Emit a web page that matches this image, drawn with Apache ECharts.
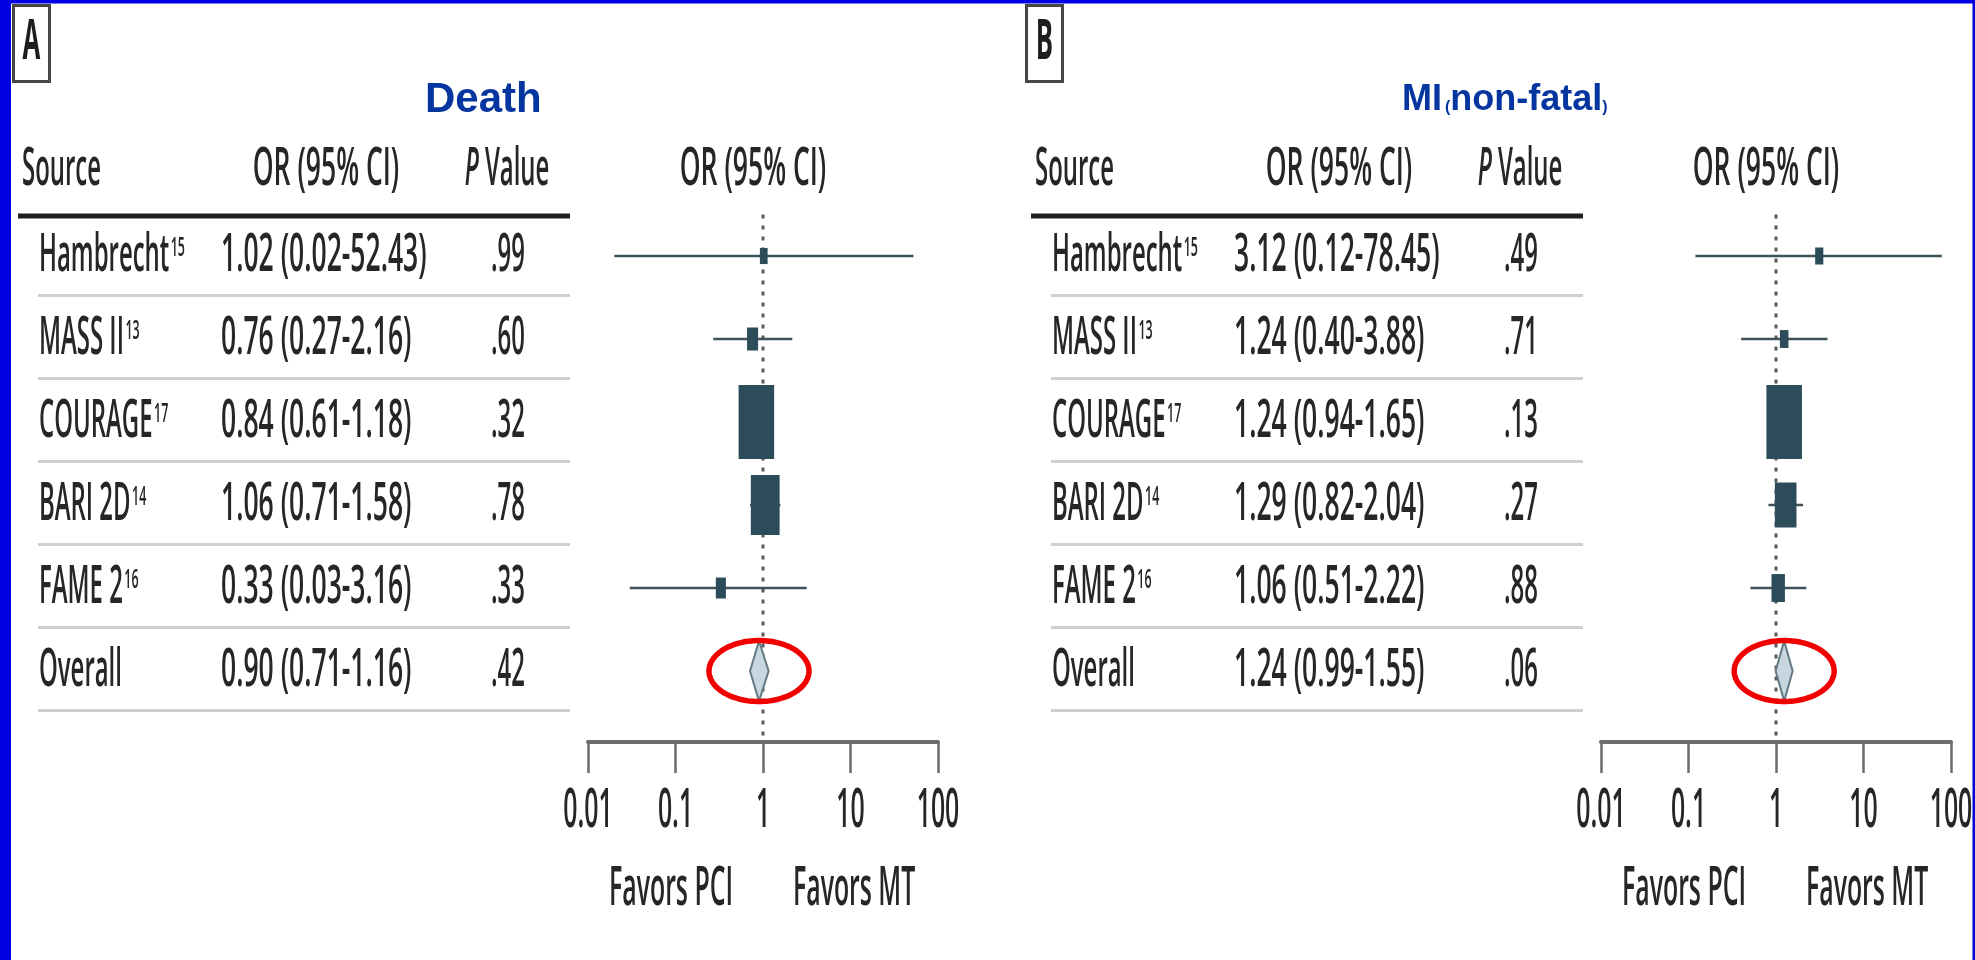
<!DOCTYPE html>
<html>
<head>
<meta charset="utf-8">
<title>PCI vs MT forest plots</title>
<script src="https://cdn.jsdelivr.net/npm/echarts@6/dist/echarts.min.js"></script>
<style>
  html, body { margin: 0; padding: 0; background: #ffffff; }
  #chart { width: 1975px; height: 960px; }
</style>
</head>
<body>
<div id="chart"></div>
<script>
// ---- data -------------------------------------------------------------
const studies = ['Hambrecht', 'MASS II', 'COURAGE', 'BARI 2D', 'FAME 2', 'Overall'];
const refs = ['15', '13', '17', '14', '16', ''];

// Panel A: death
const orA = [1.02, 0.76, 0.84, 1.06, 0.33, 0.90];
const loA = [0.02, 0.27, 0.61, 0.71, 0.03, 0.71];
const hiA = [52.43, 2.16, 1.18, 1.58, 3.16, 1.16];
const pA = ['.99', '.60', '.32', '.78', '.33', '.42'];
const weightA = [2.6, 5.3, 54.8, 36.0, 4.4];

// Panel B: non-fatal MI
const orB = [3.12, 1.24, 1.24, 1.29, 1.06, 1.24];
const loB = [0.12, 0.40, 0.94, 0.82, 0.51, 0.99];
const hiB = [78.45, 3.88, 1.65, 2.04, 2.22, 1.55];
const pB = ['.49', '.71', '.13', '.27', '.88', '.06'];
const weightB = [2.9, 3.2, 54.8, 20.3, 7.8];

const tickValues = [0.01, 0.1, 1, 10, 100];
const tickLabels = ['0.01', '0.1', '1', '10', '100'];

// ---- styling ----------------------------------------------------------
const SQ = 0.46;                 // horizontal squeeze of the table typeface
const SQ_NUM = 0.51;             // slightly wider squeeze for the numeric OR column
const FONT = 'Open Sans';
const FW = '600';
const FS = 52;
const INK = '#262626';
const TITLE_BLUE = '#0536a0';
const ROW_MAX = 5.855;           // lets the value axis reach down to the x axis line

const panels = [
  { key: 'A', or: orA, lo: loA, hi: hiA, p: pA, w: weightA, dx: 0 },
  { key: 'B', or: orB, lo: loB, hi: hiB, p: pB, w: weightB, dx: 1013 }
];

const chart = echarts.init(document.getElementById('chart'), null, { renderer: 'canvas' });

function fmt(v) { return v.toFixed(2); }

function renderStudy(params, api) {
  const i = api.value(0);
  const or = api.value(1), lo = api.value(2), hi = api.value(3), w = api.value(4);
  const c = api.coord([or, i]);
  const pl = api.coord([lo, i]);
  const ph = api.coord([hi, i]);
  const children = [];
  if (w > 0) {
    children.push({
      type: 'line',
      shape: { x1: pl[0], y1: c[1], x2: ph[0], y2: c[1] },
      style: { stroke: '#3e5158', lineWidth: 2.6 }
    });
    const h = 10 * Math.sqrt(w);
    const bw = h * 0.48;
    children.push({
      type: 'rect',
      shape: { x: c[0] - bw / 2, y: c[1] - h / 2, width: bw, height: h },
      style: { fill: '#2c4c59' }
    });
  } else {
    children.push({
      type: 'polygon',
      shape: { points: [[pl[0], c[1]], [c[0], c[1] - 30], [ph[0], c[1]], [c[0], c[1] + 30]] },
      style: { fill: '#c7d6df', stroke: '#627a85', lineWidth: 2 }
    });
  }
  return { type: 'group', children: children };
}

function renderHighlight(params, api) {
  const c = api.coord([api.value(0), api.value(1)]);
  const rx = 50, ry = 30.5, pts = [];
  for (let k = 0; k < 120; k++) {
    const t = (k / 120) * Math.PI * 2;
    pts.push([c[0] + rx * Math.cos(t), c[1] + ry * Math.sin(t)]);
  }
  return {
    type: 'polygon',
    shape: { points: pts },
    style: { fill: 'none', stroke: '#f20000', lineWidth: 5.5 }
  };
}

const series = [];
panels.forEach((pn, k) => {
  series.push({
    type: 'line',
    xAxisIndex: k, yAxisIndex: k,
    data: [[1, -0.5], [1, ROW_MAX]],
    symbol: 'none', silent: true, z: 1,
    lineStyle: { color: '#5a5a5a', width: 3, type: [4, 7] }
  });
  series.push({
    type: 'custom',
    xAxisIndex: k, yAxisIndex: k,
    renderItem: renderStudy,
    data: studies.map((s, i) => [i, pn.or[i], pn.lo[i], pn.hi[i], i < pn.w.length ? pn.w[i] : 0]),
    silent: true, z: 3
  });
  series.push({
    type: 'custom',
    xAxisIndex: k, yAxisIndex: k,
    renderItem: renderHighlight,
    data: [[pn.or[5], 5]],
    silent: true, z: 4
  });
});

chart.setOption({
  animation: false,
  backgroundColor: '#ffffff',
  grid: panels.map(pn => ({ left: 588 + pn.dx, top: 214.5, width: 350, height: 527.5 })),
  xAxis: panels.map((pn, k) => ({
    type: 'log', logBase: 10, min: 0.01, max: 100, gridIndex: k,
    position: 'bottom',
    axisLine: { show: true, onZero: false, lineStyle: { color: '#6c6c6c', width: 4 } },
    axisTick: { show: true, length: 31, lineStyle: { color: '#6c6c6c', width: 2.5 } },
    axisLabel: { show: false },
    splitLine: { show: false },
    minorTick: { show: false }
  })),
  yAxis: panels.map((pn, k) => ({
    type: 'value', gridIndex: k, inverse: true, min: -0.5, max: ROW_MAX, show: false
  })),
  series: series
});

// ---- table text and decorations ---------------------------------------
const measureCtx = document.createElement('canvas').getContext('2d');
function textWidth(str, size, family, weight, style) {
  measureCtx.font = (style || 'normal') + ' ' + (weight || FW) + ' ' + size + 'px "' + family + '"';
  return measureCtx.measureText(str).width;
}
function label(x, y, str, o) {
  o = o || {};
  return {
    type: 'text', x: x, y: y, silent: true, z: 10,
    scaleX: o.squeeze !== undefined ? o.squeeze : SQ,
    style: {
      text: str,
      fontFamily: o.family || FONT,
      fontSize: o.size || FS,
      fontWeight: o.weight || FW,
      fontStyle: o.style || 'normal',
      fill: o.color || INK,
      align: o.align || 'left',
      verticalAlign: 'middle'
    }
  };
}
function hline(x1, x2, y, color, width) {
  return { type: 'line', silent: true, z: 5, shape: { x1: x1, y1: y, x2: x2, y2: y }, style: { stroke: color, lineWidth: width } };
}

const els = [];

// frame strips
els.push({ type: 'rect', silent: true, z: 20, shape: { x: 0, y: 0, width: 11, height: 960 }, style: { fill: '#0000e0' } });
els.push({ type: 'rect', silent: true, z: 20, shape: { x: 0, y: 0, width: 1975, height: 3.5 }, style: { fill: '#0000e0' } });
els.push({ type: 'rect', silent: true, z: 20, shape: { x: 1972.5, y: 0, width: 2.5, height: 960 }, style: { fill: '#0000e0' } });

panels.forEach((pn, k) => {
  const dx = pn.dx;
  const rowY = r => chart.convertToPixel({ yAxisIndex: k }, r);
  const axX = v => chart.convertToPixel({ xAxisIndex: k }, v);
  const hdrY = rowY(-1.035);

  // panel letter box
  els.push({ type: 'rect', silent: true, z: 6, shape: { x: 13.5 + dx, y: 5.5, width: 36, height: 76 },
    style: { fill: '#ffffff', stroke: '#474747', lineWidth: 3 } });
  els.push(label(31.5 + dx, 43, pn.key, { size: 56, align: 'center', weight: 'bold', color: '#1e1e1e' }));

  // column headers
  els.push(label(22 + dx, hdrY, 'Source'));
  els.push(label(326 + dx, hdrY, 'OR (95% CI)', { align: 'center', squeeze: SQ_NUM }));
  const wP = textWidth('P', FS, FONT, FW, 'italic') * SQ;
  const wV = textWidth(' Value', FS, FONT) * SQ;
  const pStart = 507 + dx - (wP + wV) / 2;
  els.push(label(pStart, hdrY, 'P', { style: 'italic' }));
  els.push(label(pStart + wP, hdrY, ' Value'));
  els.push(label(axX(1) - 10, hdrY, 'OR (95% CI)', { align: 'center', squeeze: SQ_NUM }));

  // rules
  els.push(hline(18 + dx, 570 + dx, rowY(-0.5) + 1.5, '#1f1f1f', 5));
  for (let i = 0; i < studies.length; i++) {
    els.push(hline(38 + dx, 570 + dx, rowY(i + 0.5) - 2, '#cfcfcf', 3));
  }

  // rows
  studies.forEach((s, i) => {
    const y = rowY(i);
    els.push(label(39 + dx, y, s));
    if (refs[i]) {
      const w = textWidth(s, FS, FONT) * SQ;
      els.push(label(39 + dx + w + 1.5, y - 8, refs[i], { size: 27 }));
    }
    els.push(label(221 + dx, y, fmt(pn.or[i]) + ' (' + fmt(pn.lo[i]) + '-' + fmt(pn.hi[i]) + ')', { squeeze: SQ_NUM }));
    els.push(label(508 + dx, y, pn.p[i], { align: 'center' }));
  });

  // tick labels of the log axis
  tickValues.forEach((v, j) => {
    els.push(label(axX(v), 812, tickLabels[j], { size: 54, align: 'center' }));
  });
  els.push(label(axX(1) - 30, 890, 'Favors PCI', { size: 54, align: 'right' }));
  els.push(label(axX(1) + 30, 890, 'Favors MT', { size: 54, align: 'left' }));
});

// panel titles
const TF = 'Liberation Sans';
els.push(label(425, 115 - 0.3465 * 42, 'Death', { family: TF, size: 42, weight: 'bold', color: TITLE_BLUE, squeeze: 1 }));
(function () {
  let x = 1402;
  const big = 36, small = 16, base = 113;
  const parts = [['MI', big, 0], ['(', small, 3], ['non-fatal', big, 0], [')', small, 0]];
  parts.forEach(p => {
    x += p[2];
    els.push(label(x, base - 0.3465 * p[1], p[0], { family: TF, size: p[1], weight: 'bold', color: TITLE_BLUE, squeeze: 1 }));
    x += textWidth(p[0], p[1], TF, 'bold');
  });
})();

chart.setOption({ graphic: { elements: els } });
</script>
</body>
</html>
